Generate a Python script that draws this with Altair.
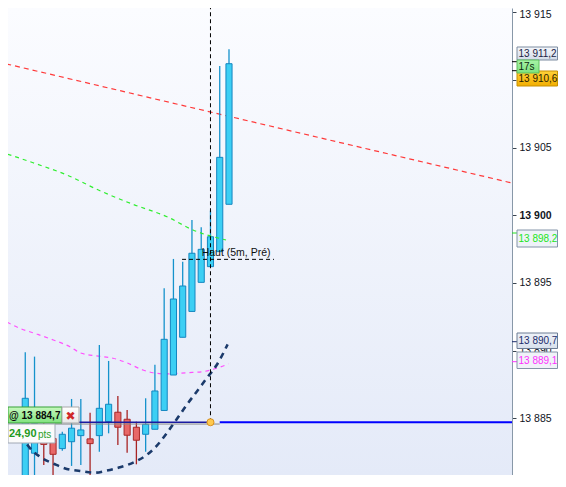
import altair as alt
import pandas as pd

# ---------------- data ----------------
idx = list(range(1, 25))
opens = [13878.0, 13878.5, 13882.41, 13884.0, 13883.5, 13882.75, 13883.26, 13883.71,
         13883.47, 13883.71, 13884.74, 13885.44, 13884.92, 13884.33, 13883.81, 13884.18,
         13885.57, 13888.19, 13890.98, 13892.89, 13895.04, 13896.20, 13897.31, 13900.81]
closes = [13880.2, 13886.47, 13884.6, 13883.06, 13882.33, 13883.81, 13884.26, 13884.13,
          13883.12, 13885.73, 13886.03, 13884.33, 13883.74, 13883.37, 13884.55, 13887.01,
          13890.83, 13893.81, 13894.77, 13897.19, 13897.48, 13898.41, 13904.28, 13911.2]
highs = [13880.2, 13889.87, 13889.55, 13885.0, 13884.5, 13884.0, 13886.42, 13886.42,
         13885.41, 13890.41, 13889.23, 13886.64, 13885.61, 13884.74, 13886.47, 13888.94,
         13894.60, 13896.77, 13896.57, 13899.65, 13899.11, 13900.34, 13911.03, 13912.27]
lows = [13877.5, 13877.5, 13879.0, 13881.54, 13879.5, 13882.6, 13881.47, 13881.54,
        13880.65, 13882.52, 13883.88, 13883.02, 13882.45, 13881.59, 13882.52, 13884.18,
        13885.57, 13888.19, 13890.98, 13892.89, 13895.04, 13896.2, 13897.31, 13900.81]

red_x = [-1, 56]
red_p = [13911.34, 13902.15]

green_x = [-0.73, 2.84, 6.51, 10.07, 13.63, 17.31, 20.11, 23.68]
green_p = [13904.70, 13903.88, 13902.97, 13901.81, 13900.81, 13899.89, 13898.91, 13898.17]

mag_x = [-0.73, 1.43, 3.24, 5.03, 6.83, 7.91, 9.71, 11.48, 12.95, 14.71, 15.79, 17.27,
         19.43, 21.19, 22.67, 23.93]
mag_p = [13892.38, 13891.64, 13891.22, 13890.78, 13890.28, 13889.84, 13889.60, 13889.43,
         13889.10, 13888.56, 13888.36, 13888.27, 13888.36, 13888.44, 13888.69, 13889.01]

navy_x = [2.2, 2.51, 3.59, 5.21, 6.48, 7.91, 9.53, 10.79, 12.23, 13.85, 15.11, 16.19, 17.27,
          18.35, 19.43, 20.51, 21.59, 22.67, 23.85]
navy_p = [13883.05, 13882.78, 13882.15, 13881.59, 13881.25, 13881.10, 13880.97, 13881.12,
          13881.37, 13881.78, 13882.28, 13882.95, 13883.88, 13884.92, 13885.98, 13886.96,
          13887.95, 13888.93, 13890.45]

entry_price = 13884.7
entry_bar = 22
haut_price = 13896.74
haut_from, haut_to = 18.93, 28.86
haut_text_x = 21.05
haut_label = "Haut (5m, Pré)"

tick_values = [13885, 13890, 13895, 13900, 13905, 13910, 13915]

# ---------------- scales / helpers ----------------
FONT = "Liberation Sans"
W, H = 504, 467
RIGHT = 46
xscale = alt.Scale(domain=[0.136, 54.56], nice=False, zero=False)
yscale = alt.Scale(domain=[13880.80, 13915.318], nice=False, zero=False)
yaxis = alt.Axis(
    orient="right", values=tick_values,
    labelExpr="replace(format(datum.value, ',d'), ',', ' ')",
    title=None, grid=False, domainColor="#8898a8", domainWidth=1,
    tickColor="#3a4450", tickSize=4, labelFont=FONT, labelFontSize=10.5,
    labelColor="#10141c", labelPadding=3, labelFlush=False, labelOverlap=False,
    labelFontWeight={"condition": {"test": "datum.value == 13900", "value": "bold"}, "value": "normal"},
    labelOffset={"condition": {"test": "datum.value == 13915", "value": 2}, "value": 0},
)


def X(f):
    return alt.X(f, type="quantitative", scale=xscale, axis=None)


def Y(f):
    return alt.Y(f, type="quantitative", scale=yscale, axis=yaxis)


one = pd.DataFrame({"a": [0]})

bg = alt.Chart(one).mark_rect(
    fill=alt.LinearGradient(gradient="linear",
                            stops=[alt.GradientStop(color="#fbfcff", offset=0),
                                   alt.GradientStop(color="#e4eaf8", offset=1)],
                            x1=0, x2=0, y1=0, y2=1)
).encode(x=alt.value(0), x2=alt.value(W), y=alt.value(0), y2=alt.value(H))

layers = [bg]

# indicator lines
red_df = pd.DataFrame({"i": red_x, "p": red_p})
layers.append(alt.Chart(red_df).mark_line(color="#ff3a3a", strokeWidth=1.2, strokeDash=[5, 4], clip=True)
              .encode(x=X("i"), y=Y("p")))
mag_df = pd.DataFrame({"i": mag_x, "p": mag_p})
layers.append(alt.Chart(mag_df).mark_line(color="#ff50ff", strokeWidth=1.2, strokeDash=[4, 4], clip=True,
                                          interpolate="monotone")
              .encode(x=X("i"), y=Y("p")))

# candles
cdf = pd.DataFrame({"i": idx, "open": opens, "high": highs, "low": lows, "close": closes})
base = alt.Chart(cdf).transform_calculate(xa="datum.i - 0.33", xb="datum.i + 0.33")
up = "datum.close >= datum.open"
layers.append(base.mark_rule(strokeWidth=1.3, clip=True).encode(
    x=X("i"), y=Y("low"), y2="high",
    color=alt.condition(up, alt.value("#1592cc"), alt.value("#a82424"))))
layers.append(base.mark_rect(strokeWidth=1, clip=True).encode(
    x=X("xa"), x2="xb", y=Y("open"), y2="close",
    fill=alt.condition(up, alt.value("#3ccff4"), alt.value("#e86868")),
    stroke=alt.condition(up, alt.value("#1486c0"), alt.value("#a82828"))))

green_df = pd.DataFrame({"i": green_x, "p": green_p})
layers.append(alt.Chart(green_df).mark_line(color="#30ee30", strokeWidth=1.2, strokeDash=[4, 4], clip=True,
                                            interpolate="monotone")
              .encode(x=X("i"), y=Y("p")))

navy_df = pd.DataFrame({"i": navy_x, "p": navy_p})
layers.append(alt.Chart(navy_df).mark_line(color="#1b3a6b", strokeWidth=2.6, strokeDash=[6, 5], clip=True,
                                           interpolate="monotone")
              .encode(x=X("i"), y=Y("p")))

# entry line
ent = pd.DataFrame({"i0": [0.0], "i1": [entry_bar], "i2": [entry_bar + 1], "i3": [60.0], "p": [entry_price]})
layers.append(alt.Chart(ent).mark_rule(color="#8a8a8a", strokeWidth=1, yOffset=1.8, clip=True)
              .encode(x=X("i0"), x2="i2", y=Y("p")))
layers.append(alt.Chart(ent).mark_rule(color="#1a1aa0", strokeWidth=1.6, clip=True)
              .encode(x=X("i0"), x2="i1", y=Y("p")))
layers.append(alt.Chart(ent).mark_rule(color="#0000ff", strokeWidth=2.2, clip=True)
              .encode(x=X("i2"), x2="i3", y=Y("p")))

# vertical dashed line
layers.append(alt.Chart(ent).mark_rule(color="#000000", strokeWidth=1, strokeDash=[4, 3], clip=True)
              .encode(x=X("i1"), y=Y("p"), y2=alt.value(0)))

# Haut line and label
hdf = pd.DataFrame({"a": [haut_from], "b": [haut_to], "t": [haut_text_x], "p": [haut_price], "lab": [haut_label]})
layers.append(alt.Chart(hdf).mark_rule(color="#000000", strokeWidth=1, strokeDash=[4, 3], clip=True)
              .encode(x=X("a"), x2="b", y=Y("p")))
layers.append(alt.Chart(hdf).mark_text(align="left", baseline="bottom", dy=-1.5, font=FONT, fontSize=10.5,
                                       color="#101010")
              .encode(x=X("t"), y=Y("p"), text="lab:N"))

# entry point circle
layers.append(alt.Chart(ent).mark_circle(size=50, color="#ffc94d", stroke="#d89020", strokeWidth=1, opacity=1)
              .encode(x=X("i1"), y=Y("p")))


# ---------------- UI boxes ----------------
def box(x0, x1, y0, y1, fill, stroke):
    return alt.Chart(one).mark_rect(fill=fill, stroke=stroke, strokeWidth=1, clip=False).encode(
        x=alt.value(x0), x2=alt.value(x1), y=alt.value(y0), y2=alt.value(y1))


def label(x, y, text, color, size=10, weight="normal", align="left", font=FONT):
    return alt.Chart(one).mark_text(text=text, align=align, baseline="middle", font=font, fontSize=size,
                                    fontWeight=weight, color=color, clip=False).encode(
        x=alt.value(x), y=alt.value(y))


def grad(c0, c1):
    return alt.LinearGradient(gradient="linear", stops=[alt.GradientStop(color=c0, offset=0),
                                                         alt.GradientStop(color=c1, offset=1)],
                              x1=0, x2=0, y1=0, y2=1)


# left entry labels
layers.append(box(0, 54, 399, 415, grad("#c6f9be", "#80e27e"), "#34a034"))
layers.append(label(1, 407.5, "@ 13 884,7", "#0a0a0a", size=10, weight="bold"))
layers.append(box(54, 71, 399, 415, grad("#ffffff", "#e8e8e8"), "#a8a8a8"))
layers.append(label(62.5, 407.5, "✖", "#d02828", size=12, align="center", font="DejaVu Sans"))
layers.append(box(0, 47, 416, 435, "#fbfbfb", "#a0a8b4"))
layers.append(label(1, 426, "24,90", "#1f9a1f", size=11, weight="bold"))
layers.append(label(30, 426.5, "pts", "#2aa02a", size=10))

# axis value boxes
ax_ticks = [(53.7, "#000000"), (62.7, "#000000"), (225, "#20e020"), (333.7, "#1c2c6c"), (353.7, "#ff30ff")]
for ty, tc in ax_ticks:
    layers.append(alt.Chart(one).mark_rule(color=tc, strokeWidth=1, clip=False).encode(
        x=alt.value(W), x2=alt.value(W + 5), y=alt.value(ty)))

BX0, BX1, TX = 509, 549.5, 510.5
layers.append(box(BX0, BX1, 39, 52, grad("#f6f8fc", "#d2dbe8"), "#7c8ca0"))
layers.append(label(TX, 45.8, "13 911,2", "#1c1c44"))
layers.append(box(BX0, BX1, 63, 78, grad("#ffd23a", "#f2ae00"), "#c89000"))
layers.append(label(TX, 70.8, "13 910,6", "#2a2000"))
layers.append(box(BX0, 531, 52, 65, grad("#a8f4a8", "#7ee27e"), "#5cc05c"))
layers.append(label(TX, 58.8, "17s", "#0e2a0e"))
layers.append(box(BX0, BX1, 222, 239, "#eef2f8", "#8494a8"))
layers.append(label(TX, 230.8, "13 898,2", "#22e622"))
layers.append(box(BX0, BX1, 325, 340.5, grad("#eef2f8", "#d8e0ec"), "#6c7c94"))
layers.append(label(TX, 333.2, "13 890,7", "#1c2c6c"))
layers.append(box(BX0, BX1, 344, 360.5, "#f0f2f8", "#8494a8"))
layers.append(label(TX, 352.5, "13 889,1", "#ff30ff"))

chart = alt.layer(*layers).properties(
    width=W, height=H,
    autosize=alt.AutoSizeParams(type="none"),
    padding={"left": 0, "top": 0, "right": RIGHT, "bottom": 0},
    background="#ffffff",
).configure_view(stroke="transparent")

chart.save("out.html", embed_options={"renderer": "svg", "actions": False})
